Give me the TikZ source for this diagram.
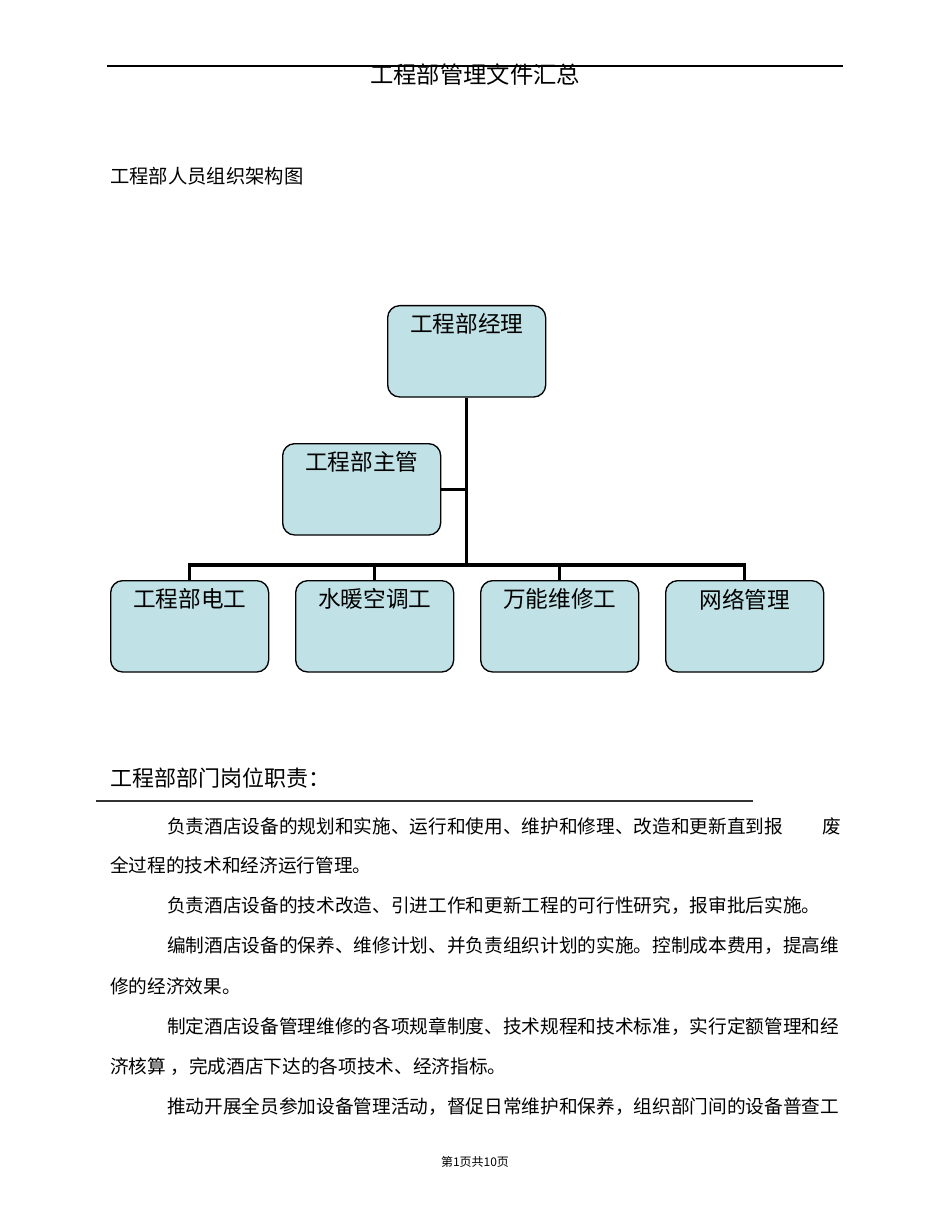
\documentclass[tikz,border=0pt]{standalone}
\usepackage{fontspec}
\setmainfont{Liberation Serif}
\newfontfamily\cjk{Noto Sans CJK SC}
\begin{document}
\begin{tikzpicture}[x=0.75pt,y=-0.75pt,
 orgbox/.style={draw=black,line width=1pt,fill=boxfill,rounded corners=9pt,minimum width=118.5pt,minimum height=68.5pt,anchor=north west,inner sep=0pt},
 lbl/.style={font=\cjk\fontsize{17pt}{20pt}\selectfont,anchor=north},
 conn/.style={line width=2.5pt},
 body/.style={font=\cjk\fontsize{14pt}{17pt}\selectfont,anchor=west,inner sep=0pt}]
\definecolor{boxfill}{HTML}{C0E2E6}
\useasboundingbox (0,0) rectangle (950,1230);
\fill[white] (0,0) rectangle (950,1230);
\coordinate (tl) at (107,66); \coordinate (tr) at (843,66);
\draw[line width=1pt] (tl) -- (tr);
\node[font=\cjk\fontsize{17.5pt}{20pt}\selectfont] (title) at (475,75) {工程部管理文件汇总};
\node[body,font=\cjk\fontsize{14.5pt}{17pt}\selectfont] (sub) at (110,176) {工程部人员组织架构图};
% boxes
\node[orgbox] (m) at (387,305) {};
\node[lbl] at ([yshift=-3pt]m.north) {工程部经理};
\node[orgbox] (s) at (282,443) {};
\node[lbl] at ([yshift=-3pt]s.north) {工程部主管};
\node[orgbox] (b1) at (110,580) {};
\node[lbl] at ([yshift=-3pt]b1.north) {工程部电工};
\node[orgbox] (b2) at (295,580) {};
\node[lbl] at ([yshift=-3pt]b2.north) {水暖空调工};
\node[orgbox] (b3) at (480,580) {};
\node[lbl] at ([yshift=-3pt]b3.north) {万能维修工};
\node[orgbox] (b4) at (665,580) {};
\node[lbl] at ([yshift=-3pt]b4.north) {网络管理};
\coordinate (j) at (m.south |- 0,565);
\draw[conn] (m.south) -- (j);
\draw[conn] (s.east) -- (s.east -| m.south);
\draw[conn] (b1.north) |- (j) -| (b4.north);
\draw[conn] (b2.north) -- (b2.north |- j);
\draw[conn] (b3.north) -- (b3.north |- j);
% section
\node[body,font=\cjk\fontsize{16.5pt}{20pt}\selectfont] (sec) at (110,778) {工程部部门岗位职责：};
\coordinate (sl) at (96,801); \coordinate (sr) at (753,801);
\draw[line width=1.2pt,black!80] (sl) -- (sr);
\node[body] (p1) at (167,826) {负责酒店设备的规划和实施、运行和使用、维护和修理、改造和更新直到报};
\node[body] (p1b) at (822,826) {废};
\node[body] (p2) at (110,865) {全过程的技术和经济运行管理。};
\node[body] (p3) at (167,906) {负责酒店设备的技术改造、引进工作和更新工程的可行性研究，报审批后实施。};
\node[body] (p4) at (167,946) {编制酒店设备的保养、维修计划、并负责组织计划的实施。控制成本费用，提高维};
\node[body] (p5) at (110,986) {修的经济效果。};
\node[body] (p6) at (167,1027) {制定酒店设备管理维修的各项规章制度、技术规程和技术标准，实行定额管理和经};
\node[body] (p7) at (110,1067) {济核算 ，完成酒店下达的各项技术、经济指标。};
\node[body] (p8) at (167,1107) {推动开展全员参加设备管理活动，督促日常维护和保养，组织部门间的设备普查工};
\node[font=\cjk\fontsize{9pt}{11pt}\selectfont] (foot) at (475,1162) {第1页共10页};
\end{tikzpicture}
\end{document}
